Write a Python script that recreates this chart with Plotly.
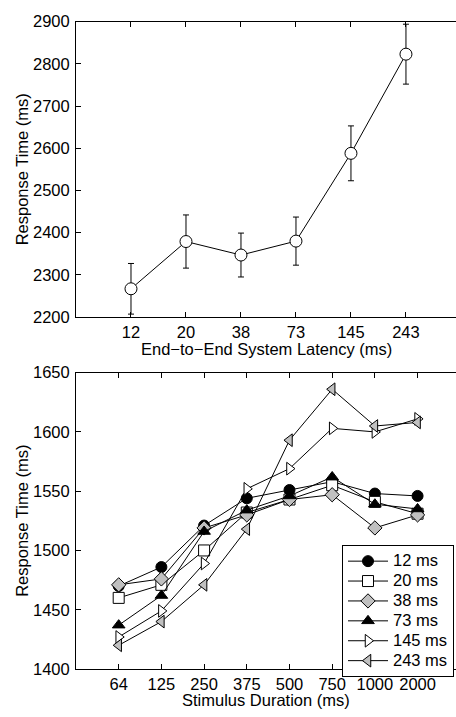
import plotly.graph_objects as go

# ---- Top panel data ----
latency_labels = ["12", "20", "38", "73", "145", "243"]
rt_latency = [2267, 2379, 2347, 2380, 2588, 2823]
rt_latency_err = [60, 63, 52, 57, 65, 71]

# ---- Bottom panel data ----
duration_labels = ["64", "125", "250", "375", "500", "750", "1000", "2000"]
series_names = ["12 ms", "20 ms", "38 ms", "73 ms", "145 ms", "243 ms"]
rt_12 = [1470, 1486, 1521, 1544, 1551, 1558, 1548, 1546]
rt_20 = [1460, 1471, 1500, 1532, 1543, 1555, 1541, 1531]
rt_38 = [1471, 1476, 1519, 1530, 1543, 1547, 1519, 1530]
rt_73 = [1437, 1462, 1516, 1534, 1546, 1562, 1539, 1535]
rt_145 = [1427, 1449, 1489, 1552, 1569, 1603, 1600, 1611]
rt_243 = [1420, 1440, 1471, 1518, 1593, 1636, 1605, 1608]

series_values = [rt_12, rt_20, rt_38, rt_73, rt_145, rt_243]
symbols = ["circle", "square", "diamond", "triangle-up", "triangle-right", "triangle-left"]
fills = ["black", "white", "#c0c0c0", "black", "white", "#c0c0c0"]

FONT = "Liberation Sans, Arial, sans-serif"
FS = 16.5
W, H = 456, 717

fig = go.Figure()

xt = list(range(1, len(latency_labels) + 1))
fig.add_trace(go.Scatter(
    x=xt, y=rt_latency, mode="lines+markers",
    line=dict(color="black", width=1),
    marker=dict(symbol="circle", size=12, color="white", line=dict(color="black", width=1)),
    error_y=dict(type="data", array=rt_latency_err, color="black", thickness=1, width=3),
    showlegend=False, xaxis="x", yaxis="y",
))

xb = list(range(1, len(duration_labels) + 1))
for name, vals, sym, fc in zip(series_names, series_values, symbols, fills):
    fig.add_trace(go.Scatter(
        x=xb, y=vals, mode="lines+markers",
        name='<span style="font-size:16.5px">' + name + '</span>',
        line=dict(color="black", width=1),
        marker=dict(symbol=sym, size=11, color=fc, line=dict(color="black", width=1)),
        xaxis="x2", yaxis="y2",
    ))

left = 76 / W
axis_common = dict(showline=True, linecolor="black", linewidth=1, ticks="inside",
                   ticklen=5, tickcolor="black", tickwidth=1, showgrid=False, zeroline=False,
                   tickfont=dict(family=FONT, size=FS, color="black"))
title_font = dict(family=FONT, size=FS, color="black")

top_dom = [1 - 316 / H, 1 - 13 / H]
bot_dom = [1 - 677 / H, 1 - 373 / H]

fig.update_layout(
    width=W, height=H,
    margin=dict(l=0, r=0, t=0, b=0),
    paper_bgcolor="white", plot_bgcolor="white",
    font=dict(family=FONT, size=FS, color="black"),
    xaxis=dict(domain=[left, 1], range=[0, 6.91], tickvals=xt, ticktext=latency_labels,
               mirror="ticks", anchor="y", ticklabelstandoff=0, **axis_common),
    yaxis=dict(domain=top_dom, range=[2200, 2900], dtick=100,
               anchor="x", mirror=False, ticklabelstandoff=2, **axis_common),
    xaxis2=dict(domain=[left, 1], range=[0, 8.9], tickvals=xb, ticktext=duration_labels,
                mirror="ticks", anchor="y2", ticklabelstandoff=0, **axis_common),
    yaxis2=dict(domain=bot_dom, range=[1400, 1650], dtick=50,
                anchor="x2", mirror=False, ticklabelstandoff=2, **axis_common),
    legend=dict(x=342 / W, y=1 - 550 / H, xanchor="left", yanchor="top",
                bgcolor="white", bordercolor="black", borderwidth=1,
                font=dict(family=FONT, size=13, color="black"),
                tracegroupgap=0, itemwidth=40),
)

# axis titles as annotations for precise placement
xmid = (left + 1) / 2
fig.add_annotation(text="End\u2212to\u2212End System Latency (ms)", xref="paper", yref="paper",
                   x=xmid, y=1 - 349 / H, showarrow=False, font=title_font,
                   xanchor="center", yanchor="middle", borderpad=0)
fig.add_annotation(text="Stimulus Duration (ms)", xref="paper", yref="paper",
                   x=xmid, y=1 - 709 / H, showarrow=False, font=title_font,
                   xanchor="center", yanchor="middle", borderpad=0)
fig.add_annotation(text="Response Time (ms)", xref="paper", yref="paper",
                   x=22 / W, y=sum(top_dom) / 2, showarrow=False, font=title_font,
                   textangle=-90, xanchor="center", yanchor="middle")
fig.add_annotation(text="Response Time (ms)", xref="paper", yref="paper",
                   x=22 / W, y=sum(bot_dom) / 2, showarrow=False, font=title_font,
                   textangle=-90, xanchor="center", yanchor="middle")

fig.write_html("out.html")
